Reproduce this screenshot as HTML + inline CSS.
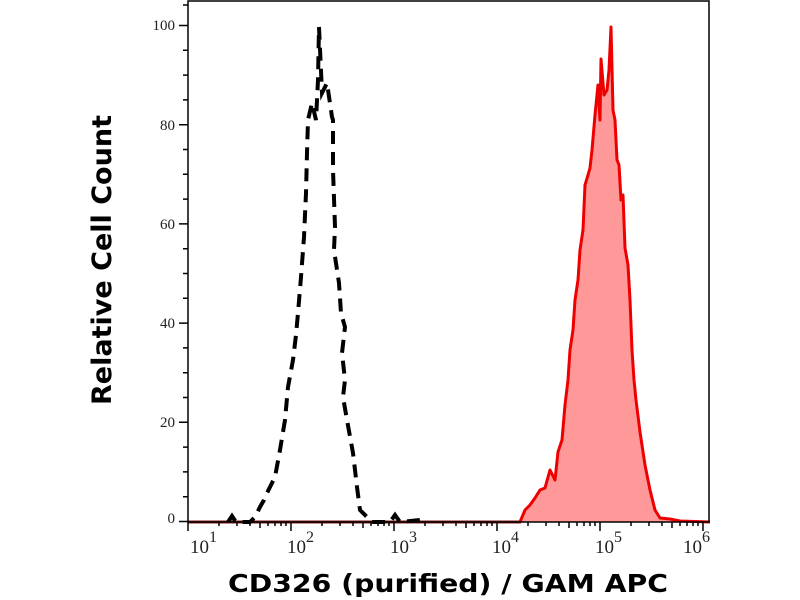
<!DOCTYPE html>
<html><head><meta charset="utf-8"><style>body{margin:0;background:#fff}svg{display:block}</style></head><body>
<svg width="800" height="600" xmlns="http://www.w3.org/2000/svg">
<rect width="800" height="600" fill="#fff"/>
<polygon fill="#f99" stroke="none" points="188,522 520,522 525,510 530,505 535,498 540,490 545,488 550,470 555,480 558,452 562,440 565,405 568,380 570,350 573,330 575,300 578,280 580,250 583,230 585,185 588,175 590,168 592,150 595,115 598,85 600,120 601,59 604,95 607,90 609,70 611,27 613,110 615,120 617,160 619,165 621,200 623,195 625,248 628,265 630,300 632,350 634,380 636,400 640,432 645,465 650,490 655,510 660,518 670,519 680,521 710,522"/>
<polyline fill="none" stroke="#e00" stroke-width="3" stroke-linejoin="round" points="188,522 520,522 525,510 530,505 535,498 540,490 545,488 550,470 555,480 558,452 562,440 565,405 568,380 570,350 573,330 575,300 578,280 580,250 583,230 585,185 588,175 590,168 592,150 595,115 598,85 600,120 601,59 604,95 607,90 609,70 611,27 613,110 615,120 617,160 619,165 621,200 623,195 625,248 628,265 630,300 632,350 634,380 636,400 640,432 645,465 650,490 655,510 660,518 670,519 680,521 710,522"/>
<line x1="188" y1="522" x2="520" y2="522" stroke="#8b1a1a" stroke-width="3"/>
<polyline fill="none" stroke="#000" stroke-width="4" stroke-dasharray="13,8" points="228,522 232,516 236,522 250,522 255,517 260,507 264,500 267,493 271,485 275,477 280,450 285,420 288,387 293,360 296,335 298,313 301,277 304,237 306,193 307,153 308,120 312,103 316,120 318,80 319,27 322,93 327,83 332,117 333,120 333,170 335,227 334,250 339,283 341,313 345,327 342,353 345,380 343,397 347,420 353,453 357,487 360,510 367,517 372,522 390,522 395,515 400,522 420,520 425,522"/>
<rect x="188" y="1" width="521" height="521" fill="none" stroke="#000" stroke-width="1.5"/>
<path stroke="#000" stroke-width="1.5" fill="none" d="
M179,521.5H188 M183,496.7H188 M183,471.9H188 M183,447.1H188 M179,422.3H188 M183,397.5H188 M183,372.7H188 M183,347.9H188 M179,323.1H188 M183,298.3H188 M183,273.5H188 M183,248.7H188 M179,223.9H188 M183,199.1H188 M183,174.3H188 M183,149.5H188 M179,124.7H188 M183,99.9H188 M183,75.1H188 M183,50.3H188 M179,25.5H188 M183,5H188
M188,522v9 M219,522v4 M237,522v4 M250,522v4 M260,522v6 M268,522v4 M275,522v4 M281,522v4 M286,522v4
M291,522v9 M322,522v4 M340,522v4 M353,522v4 M363,522v6 M371,522v4 M378,522v4 M384,522v4 M389,522v4
M394,522v9 M425,522v4 M443,522v4 M456,522v4 M466,522v6 M474,522v4 M481,522v4 M487,522v4 M492,522v4
M497,522v9 M528,522v4 M546,522v4 M559,522v4 M569,522v6 M577,522v4 M584,522v4 M590,522v4 M595,522v4
M600,522v9 M631,522v4 M649,522v4 M662,522v4 M672,522v6 M680,522v4 M687,522v4 M693,522v4 M698,522v4
M703,522v9"/>
<g font-family="'Liberation Serif','DejaVu Serif',serif" font-size="15" fill="#222" text-anchor="end">
<text x="175" y="30">100</text><text x="175" y="130">80</text><text x="175" y="229">60</text><text x="175" y="328">40</text><text x="175" y="427">20</text><text x="175" y="523">0</text>
</g>
<g font-family="'Liberation Serif','DejaVu Serif',serif" font-size="19" fill="#222">
<text x="190" y="553">10<tspan dy="-11" font-size="16">1</tspan></text>
<text x="287" y="553">10<tspan dy="-11" font-size="16">2</tspan></text>
<text x="390" y="553">10<tspan dy="-11" font-size="16">3</tspan></text>
<text x="492" y="553">10<tspan dy="-11" font-size="16">4</tspan></text>
<text x="595" y="553">10<tspan dy="-11" font-size="16">5</tspan></text>
<text x="683" y="553">10<tspan dy="-11" font-size="16">6</tspan></text>
</g>
<text x="228" y="592" textLength="440" lengthAdjust="spacingAndGlyphs" font-family="'DejaVu Sans','Liberation Sans',sans-serif" font-weight="bold" font-size="25">CD326 (purified) / GAM APC</text>
<text transform="translate(111,405) rotate(-90)" textLength="290" lengthAdjust="spacingAndGlyphs" font-family="'DejaVu Sans','Liberation Sans',sans-serif" font-weight="bold" font-size="27">Relative Cell Count</text>
</svg>
</body></html>
